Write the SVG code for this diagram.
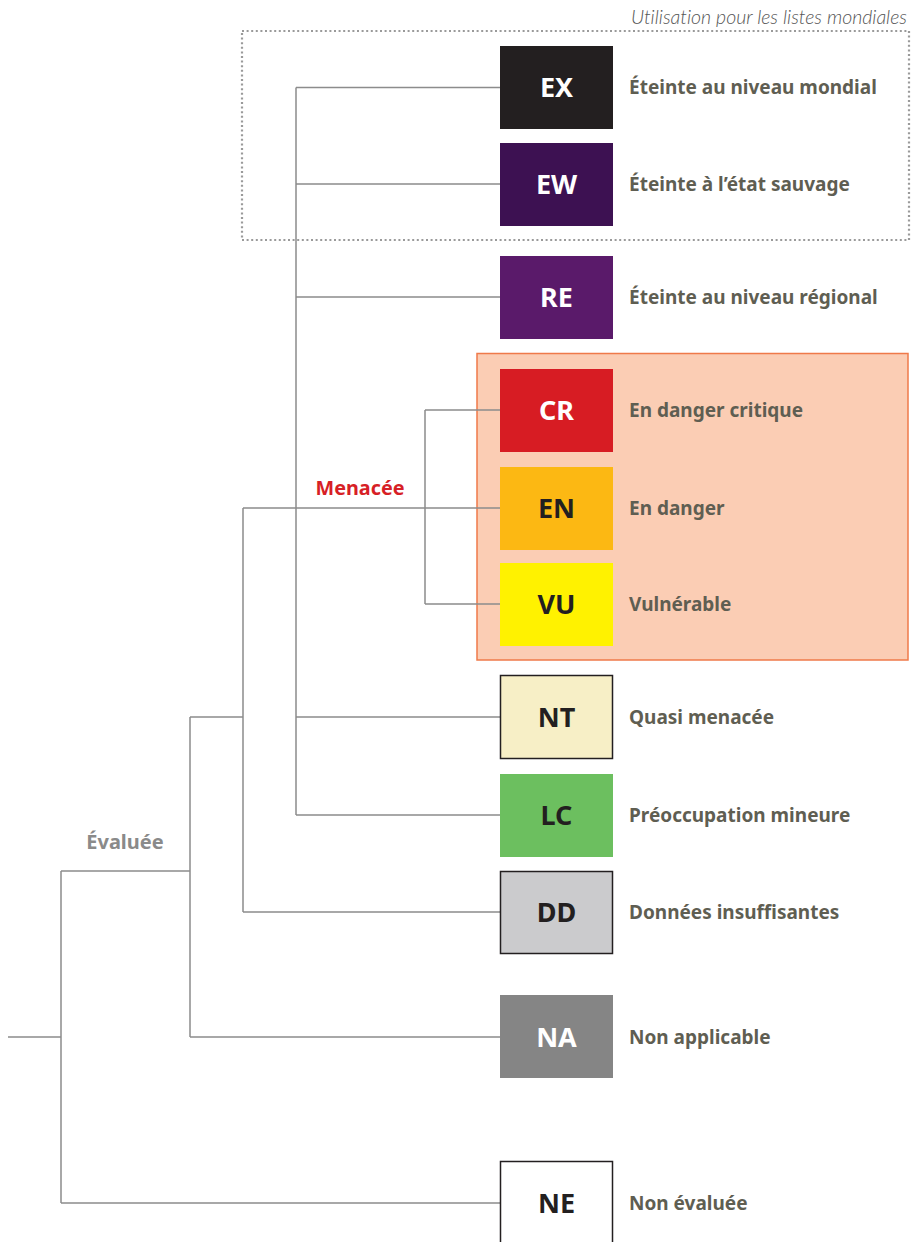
<svg xmlns="http://www.w3.org/2000/svg" width="911" height="1242" viewBox="0 0 911 1242">
<style>
.ln{stroke:#8c8c8c;stroke-width:1.5;fill:none}
.bx{stroke:none}
.bxs{stroke:#231f20;stroke-width:1.5}
.code{font-family:"Noto Sans","Open Sans",sans-serif;font-weight:700;font-size:27px;text-anchor:middle}
.w{fill:#ffffff}
.d{fill:#231f20}
.lbl{font-family:"Noto Sans","Open Sans",sans-serif;font-weight:700;font-size:19px;fill:#5f5e52}
</style>
<rect width="911" height="1242" fill="#ffffff"/>
<text x="907" y="24" font-family="Lato,'Open Sans',sans-serif" font-style="italic" font-weight="300" font-size="19.5" fill="#555555" text-anchor="end" style="font-variant-ligatures:none">Utilisation pour les listes mondiales</text>
<rect x="242" y="31" width="667" height="209" fill="none" stroke="#9a9a9a" stroke-width="2.2" stroke-dasharray="2 2.6"/>
<rect id="menacee-zone" x="477" y="353.5" width="431" height="306.5" fill="#fbcdb4" stroke="#ef7a4a" stroke-width="1.5"/>
<g id="connectors">
<path class="ln" d="M296 87.5V815M296 87.5H500M296 184H500M296 297H500M296 717H500M296 815H500"/>
<path class="ln" d="M425 410V604M425 410H500M425 604H500"/>
<path class="ln" d="M243 508V912M243 508H500M243 912H500"/>
<path class="ln" d="M190 717V1037M190 717H243M190 1037H500"/>
<path class="ln" d="M61 871V1203M61 871H190M61 1203H500M8 1037H61"/>
</g>
<text x="360" y="495" font-family="'Noto Sans','Open Sans',sans-serif" font-weight="700" font-size="19.8" fill="#d71f26" text-anchor="middle">Menacée</text>
<text x="125" y="849" font-family="'Noto Sans','Open Sans',sans-serif" font-weight="700" font-size="20" fill="#8a8a8a" text-anchor="middle">Évaluée</text>
<g id="EX"><rect class="bx" x="500" y="46" width="113" height="83" fill="#231f20"/><text class="code w" x="556.5" y="97">EX</text><text class="lbl" x="629" y="94">Éteinte au niveau mondial</text></g>
<g id="EW"><rect class="bx" x="500" y="143" width="113" height="83" fill="#3d1152"/><text class="code w" x="556.5" y="194">EW</text><text class="lbl" x="629" y="191">Éteinte à l’état sauvage</text></g>
<g id="RE"><rect class="bx" x="500" y="256" width="113" height="83" fill="#5a1a6a"/><text class="code w" x="556.5" y="307">RE</text><text class="lbl" x="629" y="304">Éteinte au niveau régional</text></g>
<g id="CR"><rect class="bx" x="500" y="369" width="113" height="83" fill="#d71c23"/><text class="code w" x="556.5" y="420">CR</text><text class="lbl" x="629" y="417">En danger critique</text></g>
<g id="EN"><rect class="bx" x="500" y="467" width="113" height="83" fill="#fcb813"/><text class="code d" x="556.5" y="518">EN</text><text class="lbl" x="629" y="515">En danger</text></g>
<g id="VU"><rect class="bx" x="500" y="563" width="113" height="83" fill="#fff200"/><text class="code d" x="556.5" y="614">VU</text><text class="lbl" x="629" y="611">Vulnérable</text></g>
<g id="NT"><rect class="bxs" x="500.5" y="675.5" width="112" height="83" fill="#f7efc6"/><text class="code d" x="556.5" y="727">NT</text><text class="lbl" x="629" y="724">Quasi menacée</text></g>
<g id="LC"><rect class="bx" x="500" y="774" width="113" height="83" fill="#6cbf5f"/><text class="code d" x="556.5" y="825">LC</text><text class="lbl" x="629" y="822">Préoccupation mineure</text></g>
<g id="DD"><rect class="bxs" x="500.5" y="871.5" width="112" height="82" fill="#cbcbcd"/><text class="code d" x="556.5" y="922">DD</text><text class="lbl" x="629" y="919">Données insuffisantes</text></g>
<g id="NA"><rect class="bx" x="500" y="995" width="113" height="83" fill="#858585"/><text class="code w" x="556.5" y="1047">NA</text><text class="lbl" x="629" y="1044">Non applicable</text></g>
<g id="NE"><rect class="bxs" x="500.5" y="1161.5" width="112" height="90" fill="#ffffff"/><text class="code d" x="556.5" y="1213">NE</text><text class="lbl" x="629" y="1210">Non évaluée</text></g>
</svg>
